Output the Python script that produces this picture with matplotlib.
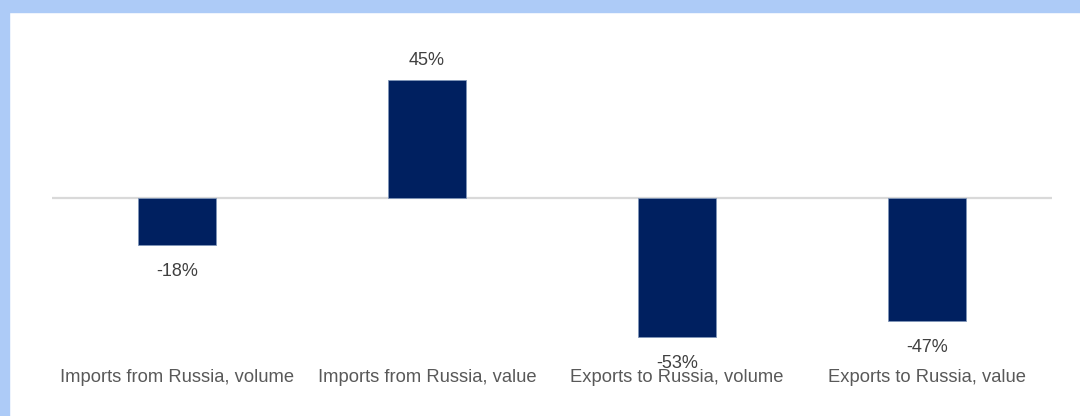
import matplotlib.pyplot as plt
from matplotlib.patches import Rectangle

categories = ["Imports from Russia, volume", "Imports from Russia, value",
              "Exports to Russia, volume", "Exports to Russia, value"]
changes = [-18, 45, -53, -47]

W, H = 1080, 416
fig = plt.figure(figsize=(W / 100, H / 100), dpi=100)
plt.rcParams['font.family'] = ['Liberation Sans', 'DejaVu Sans']

# light blue frame on top and left
fig.patches.append(Rectangle((0, 1 - 12 / H), 1, 12 / H, transform=fig.transFigure,
                             color="#adcbf7", zorder=0))
fig.patches.append(Rectangle((0, 0), 9 / W, 1, transform=fig.transFigure,
                             color="#adcbf7", zorder=0))

ymin, ymax = -58, 64
top_px, bot_px = 30.3, 350
ax = fig.add_axes([52 / W, 1 - bot_px / H, 1000 / W, (bot_px - top_px) / H])
ax.set_xlim(-0.5, 3.5)
ax.set_ylim(ymin, ymax)

x = range(len(categories))
ax.bar(x, changes, width=0.312, color="#002060", edgecolor="#8096b8", linewidth=0.6, zorder=2)
ax.axhline(0, color="#d9d9d9", linewidth=1.6, zorder=1)

for xi, v in zip(x, changes):
    if v >= 0:
        ax.annotate(f"{v}%", (xi, v), xytext=(0, 11), textcoords="offset pixels",
                    ha="center", va="bottom", fontsize=13, color="#404040")
    else:
        ax.annotate(f"{v}%", (xi, v), xytext=(0, -18), textcoords="offset pixels",
                    ha="center", va="top", fontsize=13, color="#404040")

ax.set_xticks(list(x))
ax.set_xticklabels(categories, fontsize=13.2, color="#595959")
ax.tick_params(axis="x", length=0, pad=14)
ax.set_yticks([])
for s in ax.spines.values():
    s.set_visible(False)

fig.savefig("out.png", dpi=100, facecolor="white")
